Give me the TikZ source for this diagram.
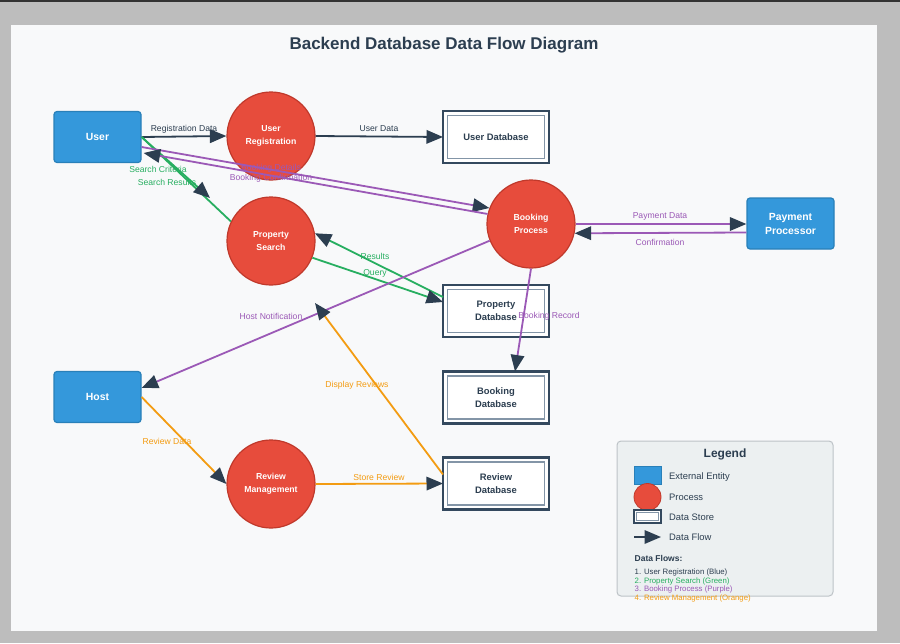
\documentclass[tikz,border=0pt]{standalone}
\usepackage{fontspec}
\setmainfont{Liberation Sans}
\usetikzlibrary{arrows.meta}
\definecolor{bgc}{HTML}{BDBDBD}
\definecolor{topc}{HTML}{333333}
\definecolor{panel}{HTML}{F8F9FA}
\definecolor{dark}{HTML}{2C3E50}
\definecolor{ent}{HTML}{3498DB}
\definecolor{entb}{HTML}{2980B9}
\definecolor{proc}{HTML}{E74C3C}
\definecolor{procb}{HTML}{C0392B}
\definecolor{grn}{HTML}{27AE60}
\definecolor{pur}{HTML}{9B59B6}
\definecolor{org}{HTML}{F39C12}
\definecolor{dsb}{HTML}{34495E}
\definecolor{dsi}{HTML}{8395A7}
\definecolor{legf}{HTML}{ECF0F1}
\definecolor{legb}{HTML}{BDC3C7}
\tikzset{
  entity/.style={draw=entb, line width=1.2pt, fill=ent, rounded corners=3pt,
    minimum width=87pt, minimum height=51pt, inner sep=0pt, text=white,
    font=\fontsize{10.4}{14}\selectfont\bfseries, align=center},
  process/.style={circle, draw=procb, line width=1.2pt, fill=proc,
    minimum size=88pt, inner sep=0pt, text=white,
    font=\fontsize{8.7}{13}\selectfont\bfseries, align=center},
  dstore/.style={draw=dsb, line width=2.2pt, fill=white, outer sep=0pt,
    minimum width=106pt, minimum height=52pt, inner sep=0pt, text=dark,
    font=\fontsize{9.4}{13}\selectfont\bfseries, align=center},
  flow/.style={line width=1.8pt, -{Triangle[length=16.5pt,width=13.5pt,color=dark]}},
  lbl/.style={font=\fontsize{8.6}{10}\selectfont, inner sep=0.5pt},
  legtxt/.style={font=\fontsize{9.4}{11}\selectfont, text=dark, anchor=west, inner sep=0pt},
  legline/.style={font=\fontsize{7.8}{9}\selectfont, anchor=west, inner sep=0pt}
}
\begin{document}
\begin{tikzpicture}[x=1pt,y=-1pt]
\useasboundingbox (0,0) rectangle (900,643);
\fill[bgc] (0,0) rectangle (900,643);
\fill[topc] (0,0) rectangle (900,1.5);
\fill[panel] (11,25) rectangle (877,631);

\node[font=\fontsize{17}{20}\selectfont\bfseries, text=dark] (title) at (444,45.5) {Backend Database Data Flow Diagram};

% nodes
\node[entity] (user) at (97.5,137) {User};
\node[entity] (host) at (97.5,397) {Host};
\node[entity] (pp) at (790.5,223.5) {Payment\\Processor};
\node[process] (ur) at (271,136) {User\\Registration};
\node[process] (ps) at (271,241) {Property\\Search};
\node[process] (bp) at (531,224) {Booking\\Process};
\node[process] (rm) at (271,484) {Review\\Management};
\node[dstore] (udb) at (496,137) {User Database};
\node[dstore] (pdb) at (496,311) {Property\\Database};
\node[dstore] (bdb) at (496,397.5) {Booking\\Database};
\node[dstore] (rdb) at (496,483.5) {Review\\Database};
\foreach \n in {udb,pdb,bdb,rdb}
  \draw[dsi, line width=1.3pt] ([shift={(4.5pt,4.5pt)}]\n.south west) rectangle ([shift={(-4.5pt,-4.5pt)}]\n.north east);

% free ends
\coordinate (sc) at (210,198);
\coordinate (dr) at (315,303);

% connectors
\draw[flow, dark] (user.east) -- (ur.west);
\draw[flow, dark] (ur.east) -- (udb.west);
\draw[grn, line width=1.8pt] (ps.154) -- (user.east);
\draw[flow, grn] (user.east) -- (sc);
\draw[flow, pur] ([yshift=-10pt]user.east) -- (bp.159);
\draw[flow, pur] (bp.167) -- ([xshift=2pt,yshift=-16pt]user.east);
\draw[flow, grn] ([yshift=14pt]pdb.west) -- (ps.10);
\draw[flow, grn] (ps.-22) -- ([yshift=9pt]pdb.west);
\draw[flow, pur] (bp.202) -- ([yshift=9pt]host.east);
\draw[flow, pur] (bp.south) -- ([xshift=19pt]bdb.north);
\draw[flow, pur] (bp.east) -- (bp.east -| pp.west);
\draw[flow, pur] ([yshift=-9pt]pp.west) -- (bp.-12);
\draw[flow, org] (host.east) -- (rm.west);
\draw[flow, org] (rm.east) -- (rdb.west);
\draw[flow, org] ([yshift=9pt]rdb.west) -- (dr);

% labels
\node[lbl, text=dark] (l1) at (184,129) {Registration Data};
\node[lbl, text=dark] (l2) at (379,129) {User Data};
\node[lbl, text=grn] (l3) at (158,169) {Search Criteria};
\node[lbl, text=grn] (l4) at (167,182) {Search Results};
\node[lbl, text=pur] (l5) at (271,168) {Booking Details};
\node[lbl, text=pur] (l6) at (271,178) {Booking Confirmation};
\node[lbl, text=pur] (l7) at (660,216.5) {Payment Data};
\node[lbl, text=pur] (l8) at (660,242.5) {Confirmation};
\node[lbl, text=grn] (l9) at (375,256) {Results};
\node[lbl, text=grn] (l10) at (375,273) {Query};
\node[lbl, text=pur] (l11) at (271,316) {Host Notification};
\node[lbl, text=pur] (l12) at (549,316) {Booking Record};
\node[lbl, text=org] (l13) at (357,385) {Display Reviews};
\node[lbl, text=org] (l14) at (167,441) {Review Data};
\node[lbl, text=org] (l15) at (379,477) {Store Review};

% legend
\node[draw=legb, fill=legf, rounded corners=4pt, line width=1pt,
  minimum width=216pt, minimum height=155pt, inner sep=0pt] (leg) at (725,518.5) {};
\node[font=\fontsize{12}{14}\selectfont\bfseries, text=dark] (legt) at (725,454) {Legend};
\node[fill=ent, draw=entb, line width=0.8pt, minimum width=27pt, minimum height=18pt, inner sep=0pt] (le1) at (647.5,475) {};
\node[circle, fill=proc, draw=procb, line width=0.8pt, minimum size=27pt, inner sep=0pt] (le2) at (647.5,497) {};
\node[draw=dsb, fill=white, line width=1.6pt, minimum width=27pt, minimum height=13pt, inner sep=0pt, outer sep=0pt] (le3) at (647.5,516.5) {};
\draw[dsi, line width=1pt] ([shift={(2.5pt,2.5pt)}]le3.south west) rectangle ([shift={(-2.5pt,-2.5pt)}]le3.north east);
\coordinate (la1) at (634,537);
\coordinate (la2) at (661,537);
\draw[flow, dark] (la1) -- (la2);
\node[legtxt] (lt1) at (669,477) {External Entity};
\node[legtxt] (lt2) at (669,497.5) {Process};
\node[legtxt] (lt3) at (669,517) {Data Store};
\node[legtxt] (lt4) at (669,537) {Data Flow};
\node[legtxt, font=\fontsize{8.5}{10}\selectfont\bfseries] (lt5) at (634.5,558.5) {Data Flows:};
\node[legline, text=dark] (lf1) at (634.5,572.5) {1. User Registration (Blue)};
\node[legline, text=grn] (lf2) at (634.5,581) {2. Property Search (Green)};
\node[legline, text=pur] (lf3) at (634.5,589.5) {3. Booking Process (Purple)};
\node[legline, text=org] (lf4) at (634.5,598.3) {4. Review Management (Orange)};
\end{tikzpicture}
\end{document}
